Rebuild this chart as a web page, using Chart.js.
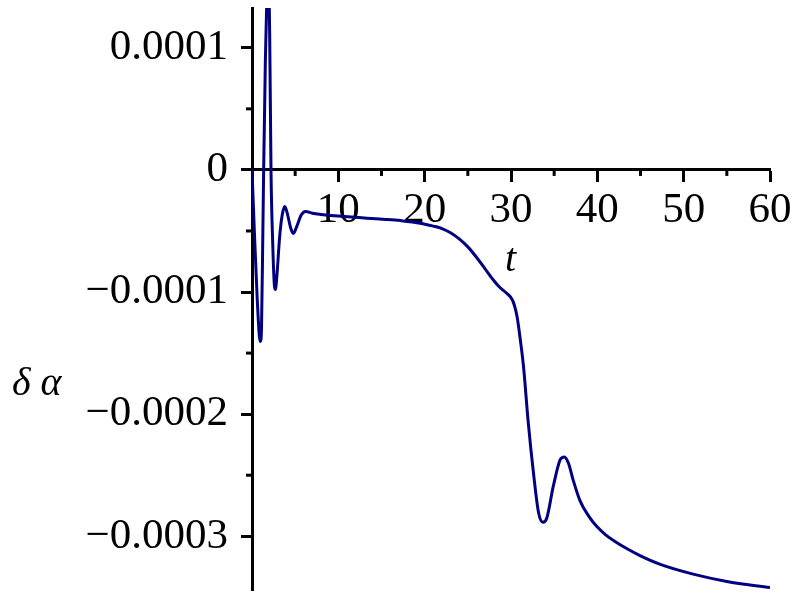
<!DOCTYPE html>
<html>
<head>
<meta charset="utf-8">
<script src="https://cdn.jsdelivr.net/npm/chart.js@4.4.1/dist/chart.umd.min.js"></script>
<style>
  html, body { margin: 0; padding: 0; background: #fff; }
  #wrap { position: relative; width: 800px; height: 600px; }
  .lbl { position: absolute; font-family: 'Liberation Serif', serif; font-style: italic; font-size: 40px; line-height: 1; color: #000; white-space: nowrap; }
</style>
</head>
<body>
<div id="wrap">
  <canvas id="grafica" width="800" height="600"></canvas>
  <span class="lbl" style="left:12px; top:362px;">δ α</span>
  <span class="lbl" style="left:505px; top:238px;">t</span>
</div>
<script>
// Valores (t, delta alfa)
const tValues = [
  0, 0.3, 0.6, 0.85, 0.97, 1.1, 1.25, 1.35, 1.55, 1.75, 1.9, 2.05, 2.2, 2.4, 2.6, 2.71,
  2.9, 3.2, 3.5, 3.8, 4.1, 4.5, 4.8, 5.2, 5.7, 6.2, 7.0, 8.0, 9.5, 11.5, 13.3, 15.5,
  17.2, 19.5, 21.0, 22.0, 23.0, 24.0, 25.0, 26.0, 27.0, 28.0, 28.75, 29.5, 30.2, 30.7, 31.06,
  31.45, 32.0, 32.6, 33.2, 33.7, 34.15, 34.9, 35.7, 36.16, 36.65, 37.2, 38.0, 39.0,
  40.0, 41.0, 42.0, 43.4, 45.0, 47.3, 51.1, 55.0, 60
];
const dAlphaValues = [
  0, -0.55e-4, -1.05e-4, -1.36e-4, -1.405e-4, -1.3e-4, -0.55e-4, 0, 0.9e-4, 1.5e-4, 1.6e-4, 1.1e-4, 0, -0.6e-4, -0.95e-4, -0.98e-4,
  -0.85e-4, -0.55e-4, -0.37e-4, -0.30e-4, -0.36e-4, -0.48e-4, -0.52e-4, -0.46e-4, -0.37e-4, -0.34e-4, -0.355e-4, -0.365e-4, -0.376e-4, -0.385e-4, -0.395e-4, -0.405e-4,
  -0.415e-4, -0.436e-4, -0.46e-4, -0.48e-4, -0.515e-4, -0.565e-4, -0.63e-4, -0.715e-4, -0.81e-4, -0.905e-4, -0.965e-4, -1.01e-4, -1.07e-4, -1.2e-4, -1.38e-4,
  -1.61e-4, -2.07e-4, -2.48e-4, -2.81e-4, -2.886e-4, -2.85e-4, -2.59e-4, -2.373e-4, -2.35e-4, -2.40e-4, -2.54e-4, -2.71e-4, -2.835e-4,
  -2.925e-4, -2.99e-4, -3.04e-4, -3.10e-4, -3.16e-4, -3.23e-4, -3.31e-4, -3.37e-4, -3.42e-4
];

// Marcas de los ejes
const xMajorTicks = [10, 20, 30, 40, 50, 60];
const xMinorTicks = [5, 15, 25, 35, 45, 55];
const yMajorTicks = [-0.0003, -0.0002, -0.0001, 0, 0.0001];
const yMinorTicks = [-0.00025, -0.00015, -0.00005, 0.00005];

const fuente = { family: "'Liberation Serif', serif", size: 43, lineHeight: 1 };

// Plugin para dibujar las marcas menores (más cortas)
const marcasMenores = {
  id: 'marcasMenores',
  afterDraw(chart) {
    const { ctx, scales: { x, y } } = chart;
    const y0 = y.getPixelForValue(0);
    const x0 = x.getPixelForValue(0);
    ctx.save();
    ctx.strokeStyle = '#000';
    ctx.lineWidth = 3;
    xMinorTicks.forEach(v => {
      const px = x.getPixelForValue(v);
      ctx.beginPath(); ctx.moveTo(px, y0); ctx.lineTo(px, y0 + 6); ctx.stroke();
    });
    yMinorTicks.forEach(v => {
      const py = y.getPixelForValue(v);
      ctx.beginPath(); ctx.moveTo(x0 - 6, py); ctx.lineTo(x0, py); ctx.stroke();
    });
    ctx.restore();
  }
};

new Chart(document.getElementById('grafica'), {
  type: 'line',
  data: {
    datasets: [{
      data: tValues.map((t, i) => ({ x: t, y: dAlphaValues[i] })),
      borderColor: '#000080',
      borderWidth: 3,
      pointRadius: 0,
      cubicInterpolationMode: 'monotone',
      fill: false
    }]
  },
  options: {
    responsive: false,
    animation: false,
    layout: { padding: { left: 0, right: 30, top: 8, bottom: 10 } },
    plugins: { legend: { display: false }, tooltip: { enabled: false } },
    scales: {
      x: {
        type: 'linear',
        position: { y: 0 },
        min: 0,
        max: 60,
        afterBuildTicks: s => { s.ticks = xMajorTicks.map(v => ({ value: v })); },
        afterFit: s => { s.paddingLeft = 0; s.paddingRight = 0; },
        ticks: { color: '#000', font: fuente, padding: 8, maxRotation: 0, autoSkip: false },
        grid: { drawOnChartArea: false, color: '#000', tickLength: 11, tickWidth: 3 },
        border: { color: '#000', width: 3 }
      },
      y: {
        type: 'linear',
        position: 'left',
        min: -0.000344,
        max: 0.0001326,
        afterBuildTicks: s => { s.ticks = yMajorTicks.map(v => ({ value: v })); },
        afterFit: s => { s.width = 252; s.paddingTop = 0; s.paddingBottom = 0; },
        ticks: {
          color: '#000', font: fuente, padding: 13, autoSkip: false,
          callback: v => v === 0 ? '0' : (v < 0 ? '\u2212' : '') + Math.abs(v).toFixed(4)
        },
        grid: { drawOnChartArea: false, color: '#000', tickLength: 11, tickWidth: 3 },
        border: { color: '#000', width: 3 }
      }
    }
  },
  plugins: [marcasMenores]
});
</script>
</body>
</html>
